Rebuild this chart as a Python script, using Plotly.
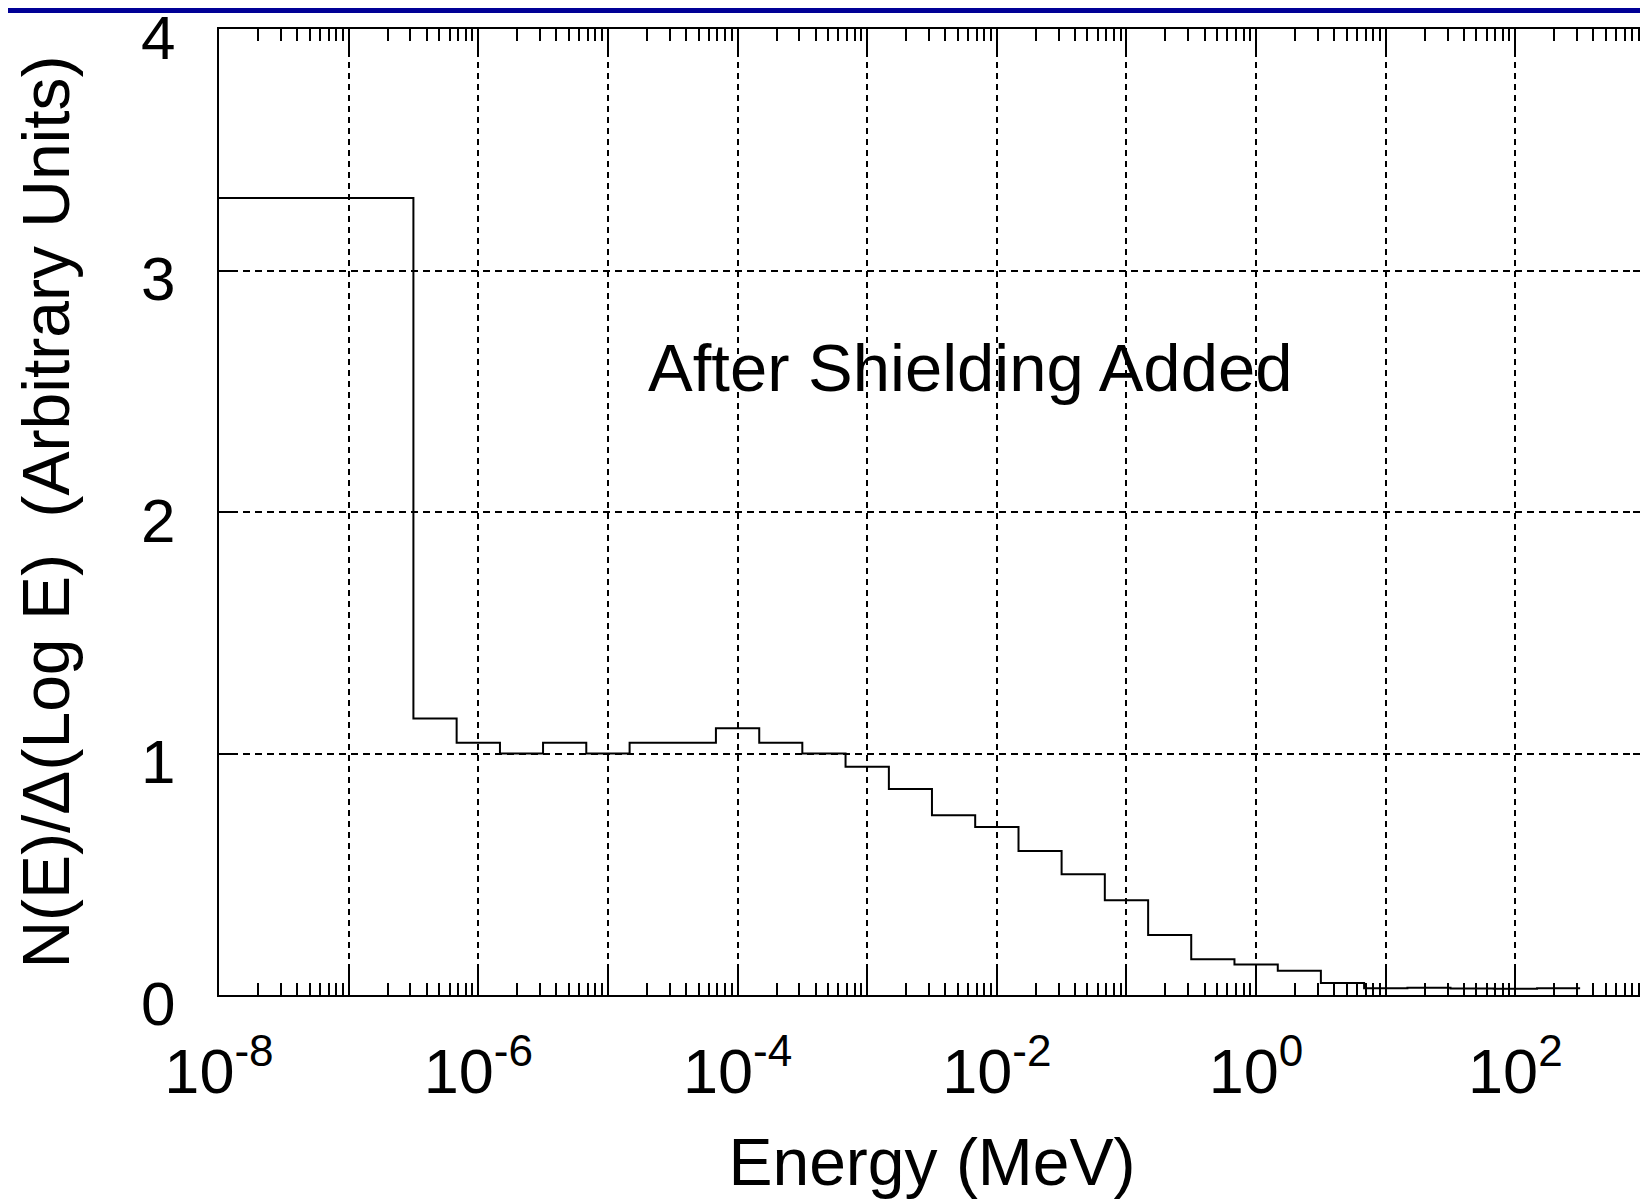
import plotly.graph_objects as go

# Bin edges (MeV) and spectrum values
bin_edges = [1e-8, 3.16e-7, 6.81e-7, 1.47e-6, 3.16e-6, 6.81e-6, 1.47e-5, 3.16e-5,
             6.81e-5, 1.47e-4, 3.16e-4, 6.81e-4, 1.47e-3, 3.16e-3, 6.81e-3,
             1.47e-2, 3.16e-2, 6.81e-2, 0.147, 0.316, 0.681, 1.47, 3.16, 6.81,
             14.7, 31.6, 68.1, 147, 316]
bin_values = [3.30, 1.145, 1.045, 1.0, 1.045, 1.0, 1.045, 1.045, 1.105, 1.045,
              1.0, 0.945, 0.853, 0.744, 0.696, 0.596, 0.50, 0.392, 0.248, 0.148,
              0.126, 0.10, 0.05, 0.028, 0.030, 0.027, 0.026, 0.028]

decade_exps = list(range(-8, 4))
labelled_exps = [-8, -6, -4, -2, 0, 2]
y_ticks = [0, 1, 2, 3, 4]

x_tickvals = [10.0 ** e for e in decade_exps]
x_ticktext = [f"10<sup>{e}</sup>" if e in labelled_exps else "" for e in decade_exps]
x_minor = [k * 10.0 ** e for e in range(-8, 3) for k in range(2, 10)]

FONT = "Liberation Sans, Arial, sans-serif"

# page body adds an 8 px offset; figure is sized to fill the remaining window
W, H = 1640, 1191
ML, MR, MT, MB = 211, 3, 21, 204
PH = H - MT - MB

fig = go.Figure()
fig.add_trace(go.Scatter(
    x=bin_edges,
    y=bin_values + [bin_values[-1]],
    mode="lines",
    line=dict(shape="hv", color="black", width=2),
    showlegend=False,
))

fig.add_annotation(x=-2.21, y=2.6, xref="x", yref="y", text="After Shielding Added",
                   showarrow=False, font=dict(family=FONT, size=67, color="black"))

# dark blue band at top of the page
fig.add_shape(type="rect", xref="paper", yref="paper",
              x0=-0.2, x1=1.01, y0=1 + (MT - 5) / PH, y1=1 + (MT + 10) / PH,
              fillcolor="#000096", line=dict(width=0), layer="above")

fig.update_xaxes(
    type="log", range=[-8, 3], automargin=False,
    tickmode="array", tickvals=x_tickvals, ticktext=x_ticktext,
    ticks="inside", ticklen=28, tickwidth=1.8, tickcolor="black",
    showline=True, linecolor="black", linewidth=2, mirror="allticks",
    showgrid=True, gridcolor="black", gridwidth=1.8, griddash="6px,5px",
    zeroline=False,
    minor=dict(tickmode="array", tickvals=x_minor, ticks="inside", ticklen=12,
               tickwidth=1.8, tickcolor="black", showgrid=False),
    tickfont=dict(family=FONT, size=63, color="black"),
    ticklabelstandoff=20, ticklabeloverflow="allow",
    title=dict(text="Energy (MeV)", font=dict(family=FONT, size=66, color="black"),
               standoff=38),
)
fig.update_yaxes(
    range=[0, 4], automargin=False, tickmode="array", tickvals=y_ticks,
    ticks="inside", ticklen=12, tickwidth=1.8, tickcolor="black",
    showline=True, linecolor="black", linewidth=2, mirror="allticks",
    showgrid=True, gridcolor="black", gridwidth=1.8, griddash="7px,5px",
    zeroline=False,
    tickfont=dict(family=FONT, size=62, color="black"),
    ticklabelstandoff=29, ticklabelshift=8, ticklabeloverflow="allow",
    title=dict(text="N(E)/\u0394(Log E)&nbsp;&nbsp;(Arbitrary Units)",
               font=dict(family=FONT, size=66, color="black"), standoff=50),
)

fig.update_layout(
    width=W, height=H,
    margin=dict(l=ML, r=MR, t=MT, b=MB, pad=0),
    paper_bgcolor="white", plot_bgcolor="white",
    font=dict(family=FONT, color="black"),
)

fig.write_html("out.html")
